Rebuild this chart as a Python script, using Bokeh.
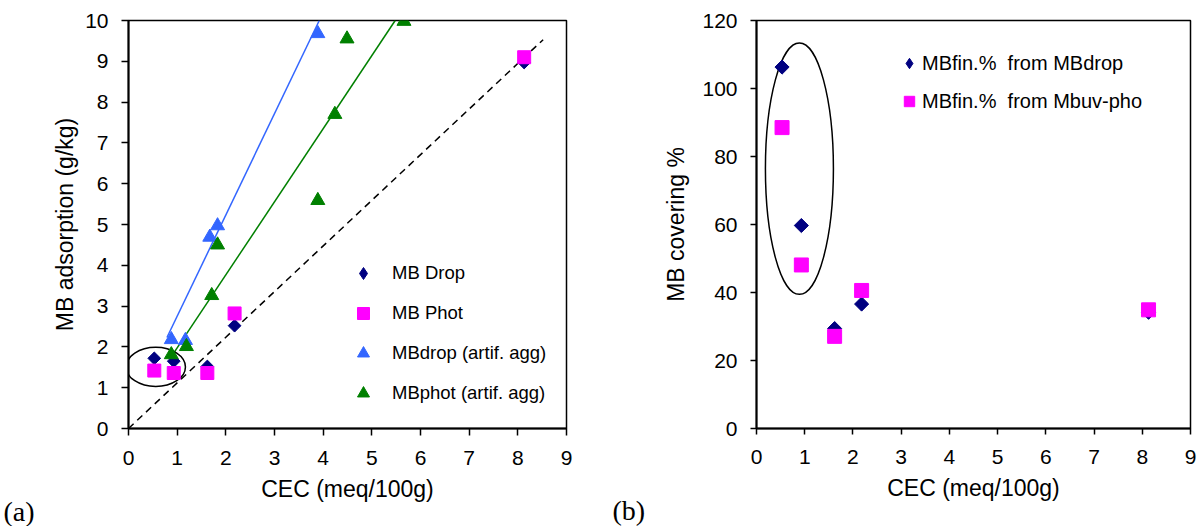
from bokeh.plotting import figure
from bokeh.layouts import row
from bokeh.models import Legend, LegendItem, Range1d, Title
from bokeh.embed import file_html
from bokeh.resources import INLINE
import math

# ---------------- data ----------------
cec = [0.53, 0.93, 1.62, 2.18, 8.13]
mb_drop = [1.72, 1.65, 1.52, 2.52, 8.97]
mb_phot = [1.42, 1.36, 1.36, 2.82, 9.10]

cec_agg_drop = [0.88, 1.17, 1.67, 1.83, 3.89]
mb_drop_agg = [2.18, 2.16, 4.69, 4.97, 9.68]

cec_agg_phot = [0.88, 1.19, 1.71, 1.83, 3.89, 4.24, 4.49, 5.66]
mb_phot_agg = [1.81, 2.01, 3.26, 4.50, 5.59, 7.70, 9.55, 9.98]

# trend lines (end points)
fit_drop_x = [0.79, 3.92]
fit_drop_y = [2.23, 10.0]
fit_phot_x = [0.88, 5.48]
fit_phot_y = [1.76, 10.0]
ref_line_x = [0.0, 8.52]
ref_line_y = [0.0, 9.53]

# ellipses marking the low-CEC samples
ell_a = dict(x=[0.56], y=[1.51], w=[1.22], h=[0.96])
ell_b = dict(x=[0.89], y=[76.4], w=[1.41], h=[73.9])

cover_drop = [106.3, 59.7, 29.4, 36.6, 34.2]
cover_phot = [88.5, 48.1, 27.1, 40.6, 34.9]

x_ticks = [0, 1, 2, 3, 4, 5, 6, 7, 8, 9]
y_ticks_a = [0, 1, 2, 3, 4, 5, 6, 7, 8, 9, 10]
y_ticks_b = [0, 20, 40, 60, 80, 100, 120]

NAVY = "#000080"
MAGENTA = "#ff00ff"
BLUE = "#3366ff"
GREEN = "#008000"
FONT = "Liberation Sans"


def style(p, ylabel, label_standoff):
    p.xaxis.ticker = x_ticks
    for ax in (p.xaxis, p.yaxis):
        ax.axis_line_width = 2
        ax.axis_line_color = "black"
        ax.major_tick_line_width = 1.5
        ax.major_tick_line_color = "black"
        ax.major_tick_in = 0
        ax.major_tick_out = 7
        ax.minor_tick_line_color = None
        ax.major_label_text_font = FONT
        ax.major_label_text_font_size = "21px"
        ax.major_label_text_color = "black"
        ax.axis_label_text_font = FONT
        ax.axis_label_text_font_size = "23px"
        ax.axis_label_text_font_style = "normal"
        ax.axis_label_text_color = "black"
    p.xaxis.major_label_standoff = 15
    p.yaxis.major_label_standoff = 13
    p.xaxis.axis_label = "CEC (meq/100g)"
    p.xaxis.axis_label_standoff = 8
    p.yaxis.axis_label = ylabel
    p.yaxis.axis_label_standoff = label_standoff
    p.xgrid.grid_line_color = None
    p.ygrid.grid_line_color = None
    p.outline_line_color = "black"
    p.outline_line_width = 1.5
    p.background_fill_color = "white"
    p.border_fill_color = "white"


def panel_tag(p, text, offset):
    t = Title(text=text, align="left", offset=offset, standoff=-17,
              text_font="Liberation Serif", text_font_size="28px", text_color="black",
              text_font_style="normal", vertical_align="top")
    p.add_layout(t, "below")


# ---------------- panel (a) ----------------
p1 = figure(width=608, height=526, output_backend="svg", toolbar_location=None,
            x_range=Range1d(0, 9), y_range=Range1d(0, 10),
            min_border_left=128, min_border_right=42, min_border_top=20, min_border_bottom=98)
style(p1, "MB adsorption (g/kg)", 4)
p1.yaxis.ticker = y_ticks_a

p1.line(ref_line_x, ref_line_y, line_color="black", line_width=1.5, line_dash="7 5")
p1.line(fit_drop_x, fit_drop_y, line_color=BLUE, line_width=1.5)
p1.line(fit_phot_x, fit_phot_y, line_color=GREEN, line_width=1.5)
p1.ellipse(x=ell_a["x"], y=ell_a["y"], width=ell_a["w"], height=ell_a["h"],
           fill_color=None, line_color="black", line_width=1.5)

# diamond shape used for the legend key (hidden under the rotated squares)
r_drop_key = p1.scatter(cec, mb_drop, marker="diamond", size=11,
                        fill_color=NAVY, line_color=NAVY)
r_drop = p1.scatter(cec, mb_drop, marker="square", angle=math.pi / 4, size=9,
                    fill_color=NAVY, line_color=NAVY)
r_phot = p1.scatter(cec, mb_phot, marker="square", size=13,
                    fill_color=MAGENTA, line_color=MAGENTA)
r_dagg = p1.scatter(cec_agg_drop, mb_drop_agg, marker="triangle", size=14,
                    fill_color=BLUE, line_color=BLUE)
r_pagg = p1.scatter(cec_agg_phot, mb_phot_agg, marker="triangle", size=14,
                    fill_color=GREEN, line_color=GREEN)

leg1 = Legend(items=[LegendItem(label="MB Drop", renderers=[r_drop_key]),
                     LegendItem(label="MB Phot", renderers=[r_phot]),
                     LegendItem(label="MBdrop (artif. agg)", renderers=[r_dagg]),
                     LegendItem(label="MBphot (artif. agg)", renderers=[r_pagg])],
              location=(220, 20), glyph_width=30, glyph_height=30, label_height=30,
              spacing=10, padding=0, margin=0, label_standoff=14,
              label_text_font=FONT, label_text_font_size="18.5px", label_text_color="black",
              border_line_color=None, background_fill_alpha=0)
p1.add_layout(leg1, "center")
panel_tag(p1, "(a)", -125)

# ---------------- panel (b) ----------------
p2 = figure(width=589, height=526, output_backend="svg", toolbar_location=None,
            x_range=Range1d(0, 9), y_range=Range1d(0, 120),
            min_border_left=148, min_border_right=7, min_border_top=14, min_border_bottom=98)
style(p2, "MB covering %", 10)
p2.yaxis.ticker = y_ticks_b
p2.xaxis.major_tick_out = 6
p2.yaxis.major_tick_out = 6

p2.ellipse(x=ell_b["x"], y=ell_b["y"], width=ell_b["w"], height=ell_b["h"],
           fill_color=None, line_color="black", line_width=1.5)
s_drop_key = p2.scatter(cec, cover_drop, marker="diamond", size=12,
                        fill_color=NAVY, line_color=NAVY)
s_drop = p2.scatter(cec, cover_drop, marker="square", angle=math.pi / 4, size=10,
                    fill_color=NAVY, line_color=NAVY)
s_phot = p2.scatter(cec, cover_phot, marker="square", size=14,
                    fill_color=MAGENTA, line_color=MAGENTA)

leg2 = Legend(items=[LegendItem(label="MBfin.%  from MBdrop", renderers=[s_drop_key]),
                     LegendItem(label="MBfin.%  from Mbuv-pho", renderers=[s_phot])],
              location=(140, 314), glyph_width=26, glyph_height=26, label_height=26,
              spacing=12, padding=0, margin=0, label_standoff=-6,
              label_text_font=FONT, label_text_font_size="20px", label_text_color="black",
              border_line_color=None, background_fill_alpha=0)
p2.add_layout(leg2, "center")
panel_tag(p2, "(b)", -144)

layout = row(p1, p2)
open("out.html", "w").write(file_html(layout, INLINE))
